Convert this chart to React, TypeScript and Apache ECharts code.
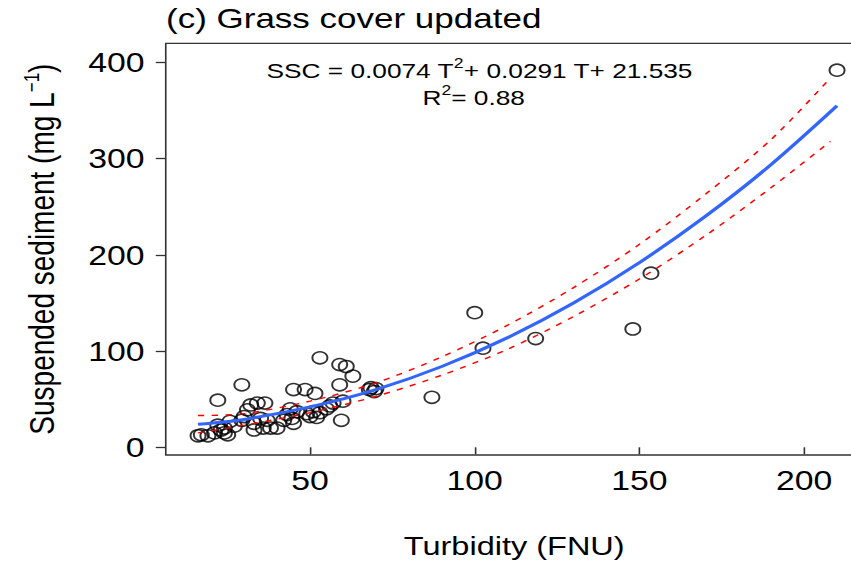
import React, { useEffect, useRef } from 'react';
import * as echarts from 'echarts';

// ---- data ----
const xTicks = [50, 100, 150, 200];
const yTicks = [0, 100, 200, 300, 400];

const turbidity = [
  210, 153.5, 148, 118.5, 102.5, 100, 87,
  68, 69.5, 70, 68.5,
  53, 59, 61, 63, 59, 59.5,
  57, 60, 56,
  45, 48.5, 51.5,
  51, 50, 53, 55, 49, 52,
  44, 44.5, 45, 43, 46,
  40, 38, 42,
  29.3, 22,
  32, 34, 36.3, 31,
  33, 35.8, 37, 35, 33,
  16, 19, 17, 23, 25, 22, 25.7, 29.3, 24, 21, 27, 30, 24,
];
const ssc = [
  392, 181, 123, 113, 103, 140, 52,
  60, 58, 61, 62,
  93, 86, 84, 74, 65, 28,
  46, 48, 43,
  60, 60, 56,
  37, 32, 36, 40, 35, 31,
  40, 30, 25, 34, 37,
  20, 20, 28,
  65, 49,
  44, 46, 46, 39,
  18, 20, 28, 30, 25,
  12, 12, 13, 18, 13, 23, 27, 28, 20, 15, 22, 32, 15,
];

const fitT = [16, 30, 50, 70, 90, 110, 130, 150, 170, 190, 210];
const fitSSC = [24, 29, 42, 60, 84, 114, 150, 192, 240, 294, 355];

const bandT = [16, 30, 50, 70, 90, 110, 130, 150, 170, 190, 208];
const bandUpper = [33, 35, 48, 67, 94, 127, 166, 211, 263, 320, 384];
const bandLower = [15, 23, 36, 53, 75, 102, 136, 175, 220, 270, 318];

const titleText = '(c) Grass cover updated';
const xName = 'Turbidity (FNU)';

// ---- layout ----
const SX = 1.25; // the reference is stretched horizontally
const FONT = '"Liberation Sans", Arial, Helvetica, sans-serif';

export default function App() {
  const ref = useRef<HTMLDivElement>(null);
  useEffect(() => {
    const chart = echarts.init(ref.current!, null, { renderer: 'svg' });
    const pair = (xs: number[], ys: number[]) => xs.map((x, i) => [x, ys[i]]);
    const eqRich = {
      m: { fontSize: 21, fontFamily: FONT, fill: '#000', lineHeight: 28 },
      s: { fontSize: 14, fontFamily: FONT, fill: '#000', lineHeight: 15, verticalAlign: 'top' },
    };
    chart.setOption({
      animation: false,
      backgroundColor: '#fff',
      textStyle: { fontFamily: FONT, color: '#000' },
      grid: {
        left: 132.6,
        right: 9.8,
        top: 43.3,
        bottom: 111,
        show: true,
        borderColor: '#333',
        borderWidth: 1.3,
        backgroundColor: 'transparent',
        containLabel: false,
        outerBoundsMode: 'none',
      },
      xAxis: {
        type: 'value',
        min: 6.2,
        max: 217.8,
        name: xName,
        nameLocation: 'middle',
        nameGap: 78,
        nameTextStyle: { fontSize: 26, color: '#000', fontFamily: FONT },
        axisLine: { show: false },
        splitLine: { show: false },
        axisTick: { show: true, length: 7, customValues: xTicks, lineStyle: { color: '#333', width: 1.3 } },
        axisLabel: { customValues: xTicks, fontSize: 27, color: '#000', margin: 12, fontFamily: FONT },
      },
      yAxis: {
        type: 'value',
        min: -8,
        max: 420,
        name: 'Suspended sediment (mg L{s|−1})',
        nameLocation: 'middle',
        nameRotate: 90,
        nameGap: 82,
        nameTextStyle: {
          fontSize: 28,
          color: '#000',
          fontFamily: FONT,
          lineHeight: 34,
          rich: { s: { fontSize: 17, verticalAlign: 'top', lineHeight: 22, color: '#000', fontFamily: FONT } },
        },
        axisLine: { show: false },
        splitLine: { show: false },
        axisTick: { show: true, length: 8, customValues: yTicks, lineStyle: { color: '#333', width: 1.3 } },
        axisLabel: { customValues: yTicks, fontSize: 27, color: '#000', margin: 17, fontFamily: FONT },
      },
      graphic: [
        {
          type: 'text',
          x: 132.8,
          y: 18,
          style: { text: titleText, fontSize: 28, fontFamily: FONT, fill: '#000', align: 'left', verticalAlign: 'middle' },
        },
        {
          type: 'text',
          x: 383.6,
          y: 70,
          style: {
            text: '{m|SSC = 0.0074 T}{s|2}{m|+ 0.0291 T+ 21.535}',
            align: 'center',
            verticalAlign: 'middle',
            rich: eqRich,
          },
        },
        {
          type: 'text',
          x: 379,
          y: 97,
          style: {
            text: '{m|R}{s|2}{m|= 0.88}',
            align: 'center',
            verticalAlign: 'middle',
            rich: eqRich,
          },
        },
      ],
      series: [
        {
          type: 'scatter',
          data: pair(turbidity, ssc),
          symbol: 'circle',
          symbolSize: 12,
          itemStyle: { color: 'rgba(0,0,0,0)', borderColor: '#000', borderWidth: 1.6 },
          z: 2,
        },
        {
          type: 'line',
          data: pair(bandT, bandUpper),
          smooth: 0.3,
          showSymbol: false,
          lineStyle: { color: '#ff0000', width: 1.4, type: [5, 6] },
          z: 3,
        },
        {
          type: 'line',
          data: pair(bandT, bandLower),
          smooth: 0.3,
          showSymbol: false,
          lineStyle: { color: '#ff0000', width: 1.4, type: [5, 6] },
          z: 3,
        },
        {
          type: 'line',
          data: pair(fitT, fitSSC),
          smooth: 0.3,
          showSymbol: false,
          lineStyle: { color: '#3366ff', width: 3 },
          z: 4,
        },
      ],
    });
    return () => chart.dispose();
  }, []);
  return (
    <div style={{ position: 'fixed', left: 0, top: 0, width: 851, height: 566, overflow: 'hidden', background: '#fff' }}>
      <div ref={ref} style={{ width: 700, height: 566, transform: `scaleX(${SX})`, transformOrigin: '0 0' }} />
    </div>
  );
}
